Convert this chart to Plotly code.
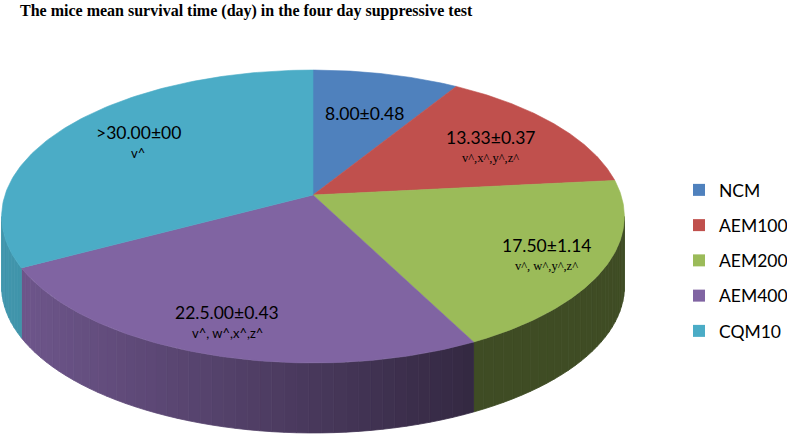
import numpy as np
import plotly.graph_objects as go

# ---------------- data ----------------
categories = ["NCM", "AEM100", "AEM200", "AEM400", "CQM10"]
values = [8.00, 13.33, 17.50, 22.5, 30.00]
main_labels = ["8.00±0.48", "13.33±0.37", "17.50±1.14", "22.5.00±0.43", ">30.00±00"]
sub_labels = ["", "v^,x^,y^,z^", "v^, w^,y^,z^", "v^, w^,x^,z^", "v^"]
title_text = "The mice mean survival time (day) in the four day suppressive test"

# ---------------- styles / geometry ----------------
colors = ["#4F81BD", "#C0504D", "#9BBB59", "#8064A2", "#4BACC6"]
W, Hpx = 787, 438
CX, CY = 313.0, 195.0      # projected pie centre (pixels)
KX, KY = 308.0, 143.3      # projection scales
P = 0.1468                 # perspective factor
DEPTH = 70.0               # side wall thickness (pixels)
label_pos = [(364, 113), (490, 137), (546, 245), (227, 312), (138, 132)]
sub_dy = 21
sub_fonts = [("Lato", 13), ("Liberation Serif", 12.5), ("Liberation Serif", 12.5), ("Lato", 13), ("Lato", 13)]


def proj(theta_deg):
    t = np.radians(theta_deg)
    X, Y = np.sin(t), np.cos(t)
    w = 1 + P * Y
    return CX + KX * X / w, CY - KY * Y / w


def shade(hex_color, f):
    h = hex_color.lstrip("#")
    r, g, b = (int(h[i:i + 2], 16) for i in (0, 2, 4))
    return "rgb({},{},{})".format(int(r * f), int(g * f), int(b * f))


total = float(sum(values))
bounds = np.concatenate([[0.0], np.cumsum(values) / total * 360.0])

# visible side wall angular range (silhouette where cos(theta) = -P)
th_r = np.degrees(np.arccos(-P))
th_l = 360.0 - th_r

fig = go.Figure()

# side walls (gradient strips)
for i, c in enumerate(colors):
    a, b = max(bounds[i], th_r), min(bounds[i + 1], th_l)
    if b <= a:
        continue
    n = max(2, int(np.ceil((b - a) / 2.0)))
    edges = np.linspace(a, b, n + 1)
    for j in range(n):
        ts = np.linspace(edges[j], edges[j + 1], 6)
        xs, ys = proj(ts)
        xmid = float(np.mean(xs))
        f = max(0.41, 0.88 - 0.001 * xmid)
        col = shade(c, f)
        px = np.concatenate([xs, xs[::-1], xs[:1]])
        py = np.concatenate([ys, ys[::-1] + DEPTH, ys[:1]])
        fig.add_trace(go.Scatter(x=px, y=py, mode="lines", fill="toself",
                                 fillcolor=col, line=dict(color=col, width=0.8),
                                 hoverinfo="skip", showlegend=False))

# top faces
for i, c in enumerate(colors):
    ts = np.linspace(bounds[i], bounds[i + 1], 120)
    xs, ys = proj(ts)
    px = np.concatenate([[CX], xs, [CX]])
    py = np.concatenate([[CY], ys, [CY]])
    fig.add_trace(go.Scatter(x=px, y=py, mode="lines", fill="toself",
                             fillcolor=c, line=dict(color=c, width=0.6),
                             hoverinfo="skip", showlegend=False))

# legend entries
for i, (name, c) in enumerate(zip(categories, colors)):
    fig.add_trace(go.Scatter(x=[None], y=[None], mode="markers", name=name,
                             legendgroup=name,
                             marker=dict(symbol="square", size=12, color=c)))

annotations = []
for i in range(len(categories)):
    x, y = label_pos[i]
    annotations.append(dict(x=x, y=y, xref="x", yref="y", text=main_labels[i],
                            showarrow=False, font=dict(family="Lato", size=17.5, color="black"),
                            xanchor="center", yanchor="middle"))
    if sub_labels[i]:
        fam, sz = sub_fonts[i]
        annotations.append(dict(x=x, y=y + sub_dy, xref="x", yref="y", text=sub_labels[i],
                                showarrow=False, font=dict(family=fam, size=sz, color="black"),
                                xanchor="center", yanchor="middle"))

fig.update_layout(
    width=W, height=Hpx, autosize=False,
    margin=dict(l=0, r=0, t=0, b=0, autoexpand=False),
    paper_bgcolor="white", plot_bgcolor="white",
    xaxis=dict(range=[0, W], visible=False, fixedrange=True),
    yaxis=dict(range=[Hpx, 0], visible=False, fixedrange=True),
    title=dict(text="<b>" + title_text + "</b>", x=20 / W, xanchor="left",
               y=1 - 10 / Hpx, yanchor="middle",
               font=dict(family="Liberation Serif", size=16, color="black")),
    legend=dict(x=679 / W, xanchor="left", y=1 - 172 / Hpx, yanchor="top",
                font=dict(family="Lato", size=17.5, color="black"),
                tracegroupgap=9.5, itemwidth=30, bgcolor="rgba(0,0,0,0)"),
    annotations=annotations,
    hovermode=False,
    showlegend=True,
)

fig.write_html("out.html")
